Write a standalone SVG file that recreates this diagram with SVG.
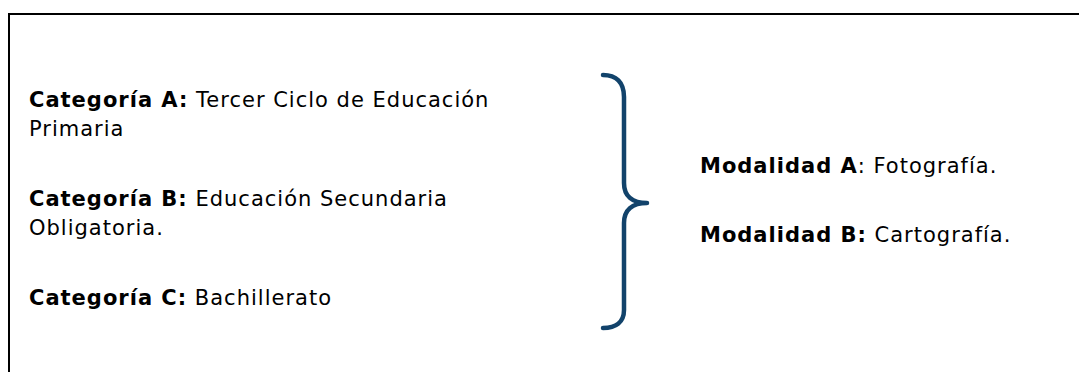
<svg xmlns="http://www.w3.org/2000/svg" width="1079" height="372" viewBox="0 0 1079 372">
<style>
.t{font-family:"DejaVu Sans","Liberation Sans",sans-serif;font-size:21px;fill:#000;letter-spacing:1px}
.b{font-weight:bold}
.frame{fill:none;stroke:#000;stroke-width:2}
.brace{fill:none;stroke:#12436b;stroke-width:4.5;stroke-linecap:round;stroke-linejoin:round}
</style>
<rect width="1079" height="372" fill="#fff"/>
<path class="frame" d="M9,372 V14 H1079"/>
<g id="categorias">
<g id="catA"><text class="t" x="29" y="107"><tspan class="b">Categoría A:</tspan> Tercer Ciclo de Educación</text><text class="t" x="29" y="136">Primaria</text></g>
<g id="catB"><text class="t" x="29" y="206"><tspan class="b">Categoría B:</tspan> Educación Secundaria</text><text class="t" x="29" y="235">Obligatoria.</text></g>
<g id="catC"><text class="t" x="29" y="305"><tspan class="b">Categoría C:</tspan> Bachillerato</text></g>
</g>
<g id="connectors">
<path class="brace" d="M603,75 C616,75 624,82 624,97 V183 C624,196 632,203 647,203 C632,203 624,210 624,223 V310 C624,322 616,328 603,328"/>
</g>
<g id="modalidades">
<g id="modA"><text class="t" x="700" y="173"><tspan class="b">Modalidad A</tspan>: Fotografía.</text></g>
<g id="modB"><text class="t" x="700" y="242"><tspan class="b">Modalidad B:</tspan> Cartografía.</text></g>
</g>
</svg>
